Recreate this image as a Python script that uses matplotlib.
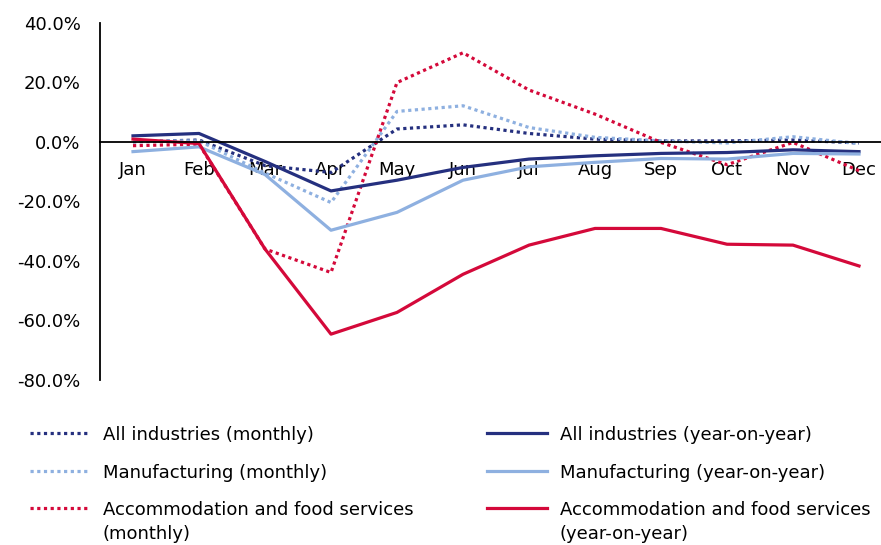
import numpy as np
import matplotlib
matplotlib.use("Agg")
import matplotlib.pyplot as plt
from matplotlib.ticker import FuncFormatter

months = ["Jan", "Feb", "Mar", "Apr", "May", "Jun", "Jul", "Aug", "Sep", "Oct", "Nov", "Dec"]

# values in percent
all_monthly = [0.0, 0.6, -8.0, -10.3, 4.3, 5.7, 2.8, 0.9, 0.3, 0.3, 0.6, -0.4]
all_yoy = [2.0, 2.8, -6.6, -16.5, -12.9, -8.6, -5.8, -4.7, -3.9, -3.6, -2.7, -3.3]
manuf_monthly = [0.3, 0.3, -10.5, -20.4, 10.2, 12.1, 4.8, 1.5, 0.3, -0.4, 1.7, -0.6]
manuf_yoy = [-3.3, -1.7, -11.0, -29.7, -23.7, -12.9, -8.4, -6.9, -5.6, -5.8, -3.9, -4.1]
accom_monthly = [-1.3, -0.8, -36.0, -43.9, 19.9, 29.9, 17.4, 9.3, -0.2, -7.7, -0.2, -9.7]
accom_yoy = [0.9, -0.6, -36.0, -64.6, -57.3, -44.5, -34.7, -29.1, -29.1, -34.4, -34.7, -41.7]

yticks = [40, 20, 0, -20, -40, -60, -80]

NAVY = "#25307f"
LIGHT = "#8eb0e0"
RED = "#d4093a"

plt.rcParams['font.family'] = ['DejaVu Sans']
FS = 13

fig = plt.figure(figsize=(8.81, 5.45), dpi=100)
W, H = 881, 545
ax = fig.add_axes([100 / W, 1 - 380 / H, (W - 100) / W, (380 - 22.7) / H])

x = np.arange(len(months))
lw = 2.3
dot = (0, (1, 1.1))

# monthly series (dotted) then year-on-year (solid)
l1, = ax.plot(x, all_monthly, color=NAVY, lw=lw, linestyle=dot)
l2, = ax.plot(x, manuf_monthly, color=LIGHT, lw=lw, linestyle=dot)
l3, = ax.plot(x, accom_monthly, color=RED, lw=lw, linestyle=dot)
l4, = ax.plot(x, all_yoy, color=NAVY, lw=lw)
l5, = ax.plot(x, manuf_yoy, color=LIGHT, lw=lw)
l6, = ax.plot(x, accom_yoy, color=RED, lw=lw)

ax.set_xlim(-0.5, (W - 100) / 66 - 0.5)
ax.set_ylim(-80, 40)
ax.set_yticks(yticks)
ax.yaxis.set_major_formatter(FuncFormatter(lambda v, p: f"{v:.1f}%"))
ax.set_xticks(x)
ax.set_xticklabels(months)

# category axis crosses at zero
ax.spines['bottom'].set_position(('data', 0))
ax.spines['bottom'].set_linewidth(1.3)
ax.spines['left'].set_linewidth(1.3)
ax.spines['top'].set_visible(False)
ax.spines['right'].set_visible(False)
ax.tick_params(axis='x', length=0, pad=14, labelsize=FS)
ax.tick_params(axis='y', length=0, pad=14, labelsize=FS)


def make_legend(handles, labels, left_px):
    leg = fig.legend(handles, labels, loc='upper left',
                     bbox_to_anchor=(left_px / W, 1 - 426 / H),
                     frameon=False, fontsize=FS, borderpad=0, borderaxespad=0,
                     handlelength=3.3, handletextpad=0.72, handleheight=1.0,
                     labelspacing=1.08)
    # keep the handle on the first line of wrapped labels
    for col in leg._legend_handle_box.get_children():
        for row in col.get_children():
            row.align = "top"
    for t in leg.get_texts():
        t.set_linespacing(1.42)
    return leg


leg1 = make_legend([l1, l2, l3],
                   ["All industries (monthly)", "Manufacturing (monthly)",
                    "Accommodation and food services\n(monthly)"], 30)
leg2 = make_legend([l4, l5, l6],
                   ["All industries (year-on-year)", "Manufacturing (year-on-year)",
                    "Accommodation and food services\n(year-on-year)"], 487)

fig.savefig("out.png", dpi=100)
